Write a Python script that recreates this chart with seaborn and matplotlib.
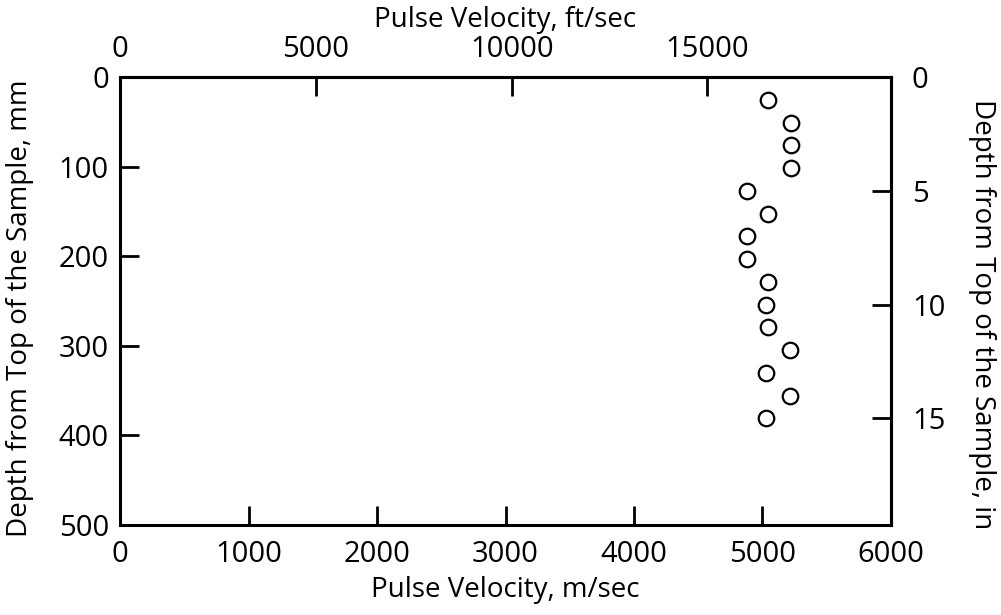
import numpy as np
import pandas as pd
import matplotlib
matplotlib.use('Agg')
import matplotlib.pyplot as plt
import seaborn as sns

# Depth readings, one per inch down the sample
depth_in = [1, 2, 3, 4, 5, 6, 7, 8, 9, 10, 11, 12, 13, 14, 15]
velocity_ms = [5040, 5220, 5220, 5220, 4880, 5040, 4880, 4880,
               5040, 5030, 5040, 5215, 5030, 5215, 5030]

x_ticks = [0, 1000, 2000, 3000, 4000, 5000, 6000]
y_ticks = [0, 100, 200, 300, 400, 500]
top_ticks = [0, 5000, 10000, 15000]
right_ticks = [0, 5, 10, 15]

MM_PER_IN = 25.4
FT_PER_M = 3.28084

df = pd.DataFrame({'depth_mm': np.array(depth_in) * MM_PER_IN,
                   'velocity': velocity_ms})

sns.set_style('ticks')
plt.rcParams['font.family'] = ['Open Sans', 'DejaVu Sans']
plt.rcParams['text.color'] = 'black'
plt.rcParams['axes.labelcolor'] = 'black'
plt.rcParams['xtick.color'] = 'black'
plt.rcParams['ytick.color'] = 'black'

TICK_FS = 21
LABEL_FS = 20

fig = plt.figure(figsize=(10.01, 6.15), dpi=100)
ax = fig.add_axes([0.1199, 0.1463, 0.7702, 0.7285])

sns.scatterplot(data=df, x='velocity', y='depth_mm', ax=ax,
                marker='o', s=125, facecolor='white', edgecolor='black',
                linewidth=1.6, zorder=3)

ax.set_xlim(0, 6000)
ax.set_ylim(500, 0)
ax.set_xticks(x_ticks)
ax.set_yticks(y_ticks)
ax.set_xlabel('Pulse Velocity, m/sec', fontsize=LABEL_FS)
ax.set_ylabel('Depth from Top of the Sample, mm', fontsize=LABEL_FS)
ax.xaxis.set_label_coords(0.5, -0.114)
ax.yaxis.set_label_coords(-0.112, 0.484)

for s in ax.spines.values():
    s.set_linewidth(2.2)
    s.set_color('black')
ax.tick_params(axis='x', direction='in', length=14, width=2,
               labelsize=TICK_FS, pad=11)
ax.tick_params(axis='y', direction='in', length=14, width=2,
               labelsize=TICK_FS, pad=8)

# secondary scales: ft/sec on top, inches on the right
top = ax.secondary_xaxis('top', functions=(lambda v: v * FT_PER_M,
                                           lambda v: v / FT_PER_M))
top.set_xticks(top_ticks)
top.set_xlabel('Pulse Velocity, ft/sec', fontsize=LABEL_FS)
top.xaxis.set_label_coords(0.5, 1.112, transform=ax.transAxes)
top.tick_params(direction='in', length=14, width=2, labelsize=TICK_FS, pad=9)
top.spines['top'].set_linewidth(2.2)

right = ax.secondary_yaxis('right', functions=(lambda v: v / MM_PER_IN,
                                               lambda v: v * MM_PER_IN))
right.set_yticks(right_ticks)
right.set_ylabel('Depth from Top of the Sample, in', fontsize=LABEL_FS,
                 rotation=270, va='center')
right.yaxis.set_label_coords(1.118, 0.47, transform=ax.transAxes)
right.tick_params(direction='in', length=14, width=2, labelsize=TICK_FS, pad=15)
right.spines['right'].set_linewidth(2.2)

fig.savefig('out.png', dpi=100)
